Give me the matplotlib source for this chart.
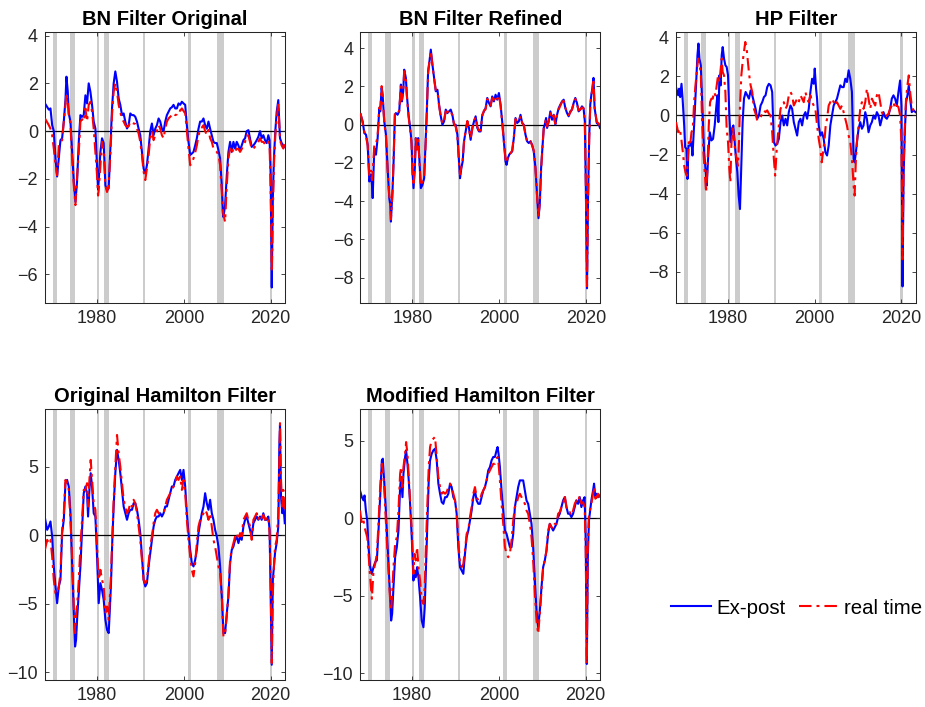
import matplotlib
matplotlib.use('Agg')
import matplotlib.pyplot as plt
from matplotlib.lines import Line2D

plt.rcParams['font.family'] = ['Liberation Sans', 'DejaVu Sans']

# ---------------- NBER recessions (shaded) ----------------
rec_start = [1969.75, 1973.75, 1980.0, 1981.5, 1990.5, 2001.0, 2007.75, 2019.75]
rec_end = [1970.75, 1975.0, 1980.5, 1982.75, 1991.0, 2001.75, 2009.25, 2020.25]

titles = ['BN Filter Original', 'BN Filter Refined', 'HP Filter',
          'Original Hamilton Filter', 'Modified Hamilton Filter']
legend_labels = ['Ex-post', 'real time']
x_ticks = [1980, 2000, 2020]

# ---------------- Panel 1: BN Filter Original ----------------
bn_orig_dates = [
    1968.0, 1968.89, 1969.27, 1969.66, 1970.04, 1970.42, 1970.80, 1971.19, 1971.57, 1971.95,
    1972.34, 1972.72, 1972.95, 1973.26, 1973.49, 1973.87, 1974.25, 1974.64, 1975.02, 1975.40,
    1975.79, 1976.17, 1976.55, 1976.93, 1977.32, 1977.70, 1978.08, 1978.47, 1978.85, 1979.23,
    1979.62, 1980.00, 1980.23, 1980.38, 1980.77, 1981.15, 1981.53, 1981.92, 1982.30, 1982.68,
    1983.07, 1983.45, 1983.83, 1984.21, 1984.60, 1984.98, 1985.36, 1985.75, 1986.13, 1986.51,
    1986.90, 1987.28, 1987.66, 1988.05, 1988.43, 1988.81, 1989.20, 1989.58, 1989.96, 1990.34,
    1990.73, 1991.11, 1991.49, 1991.88, 1992.26, 1992.64, 1993.03, 1993.41, 1993.79, 1994.18,
    1994.56, 1994.94, 1995.33, 1995.71, 1996.09, 1996.48, 1996.86, 1997.24, 1997.62, 1998.01,
    1998.39, 1998.77, 1999.16, 1999.54, 1999.92, 2000.31, 2000.69, 2001.07, 2001.46, 2001.84,
    2002.22, 2002.61, 2002.99, 2003.37, 2003.75, 2004.14, 2004.52, 2004.90, 2005.29, 2005.67,
    2006.05, 2006.44, 2006.82, 2007.20, 2007.59, 2007.97, 2008.35, 2008.74, 2008.97, 2009.12,
    2009.50, 2009.89, 2010.27, 2010.65, 2011.03, 2011.42, 2011.80, 2012.18, 2012.57, 2012.95,
    2013.33, 2013.72, 2014.10, 2014.48, 2014.87, 2015.25, 2015.63, 2016.02, 2016.40, 2016.78,
    2017.16, 2017.55, 2017.93, 2018.31, 2018.70, 2019.08, 2019.46, 2019.75, 2020.0, 2020.25,
    2020.5, 2020.75, 2021.07, 2021.38, 2021.76, 2022.15, 2022.53, 2022.91, 2023.25]
bn_orig_expost = [
    1.16, 0.9, 0.95, 0.25, 0.0, -1.15, -1.9, -1.15, -0.38, -0.3,
    0.4, 1.3, 2.28, 1.65, 0.74, 0.4, -0.87, -2.1, -2.96, -2.1,
    -0.45, 0.67, 0.6, 0.67, 1.5, 1.16, 2.0, 1.65, 1.1, 0.4,
    0.11, -1.43, -2.45, -2.1, -0.87, -0.3, -0.5, -2.27, -2.48, -2.4,
    -0.73, 0.95, 2.0, 2.5, 2.07, 1.37, 1.1, 0.67, 0.74, 0.4,
    0.11, 0.25, 0.74, 0.67, 0.67, 0.6, 0.4, 0.1, -0.17, -0.87,
    -1.57, -1.78, -1.43, -0.73, 0.0, 0.32, -0.17, 0.1, 0.25, 0.53,
    0.4, 0.1, 0.0, 0.4, 0.67, 0.81, 0.95, 1.0, 1.1, 0.95,
    0.95, 1.16, 1.1, 1.23, 1.16, 1.1, 0.25, -0.45, -1.0, -0.94,
    -0.87, -0.6, -0.3, 0.1, 0.4, 0.4, 0.53, 0.25, 0.1, 0.4,
    0.1, -0.17, -0.45, -0.5, -0.5, -0.8, -1.15, -2.27, -3.4, -3.6,
    -3.1, -1.85, -0.87, -0.45, -0.87, -0.45, -0.73, -0.45, -0.6, -0.8,
    -0.6, -0.38, -0.3, 0.0, 0.04, -0.3, -0.66, -0.6, -0.5, -0.38,
    -0.24, 0.0, -0.3, -0.17, -0.38, -0.5, -0.17, -0.38, -1.85, -6.55,
    -2.8, -1.15, 0.0, 0.8, 1.3, -0.3, -0.5, -0.6, -0.66]
bn_orig_realtime = [
    0.53, 0.25, 0.1, -0.17, -0.73, -1.4, -1.85, -0.6, -0.45, -0.38,
    0.4, 1.1, 1.6, 1.2, 0.67, 0.3, -1.15, -2.27, -3.1, -1.9,
    -0.87, 0.4, 0.5, 0.4, 0.95, 0.4, 1.1, 1.23, 0.81, 0.1,
    -0.87, -1.85, -2.7, -2.5, -1.43, -0.45, -0.87, -2.27, -2.55, -2.27,
    -1.0, 0.67, 1.65, 2.0, 1.65, 1.1, 0.81, 0.5, 0.4, 0.25,
    0.18, 0.2, 0.4, 0.35, 0.32, 0.3, 0.1, -0.1, -0.45, -1.0,
    -1.7, -2.05, -1.57, -1.0, -0.3, 0.0, -0.38, -0.17, 0.0, 0.25,
    0.1, -0.17, -0.3, 0.1, 0.4, 0.53, 0.6, 0.67, 0.75, 0.67,
    0.7, 0.88, 0.85, 0.95, 0.85, 0.74, 0.0, -0.73, -1.43, -1.3,
    -1.15, -0.9, -0.6, -0.2, 0.1, 0.15, 0.25, 0.0, -0.17, 0.05,
    -0.3, -0.45, -0.73, -0.8, -0.87, -1.0, -1.43, -2.55, -3.3, -3.5,
    -3.8, -2.27, -1.15, -0.73, -0.95, -0.73, -0.85, -0.73, -0.75, -0.87,
    -0.75, -0.6, -0.45, -0.17, -0.2, -0.45, -0.75, -0.73, -0.65, -0.6,
    -0.45, -0.3, -0.45, -0.45, -0.55, -0.6, -0.45, -0.6, -2.55, -5.9,
    -3.4, -1.43, -0.17, 0.53, 1.16, -0.38, -0.6, -0.73, -0.5]

# ---------------- Panel 2: BN Filter Refined ----------------
bn_ref_dates = [
    1968.0, 1968.51, 1968.89, 1969.28, 1969.66, 1970.04, 1970.42, 1970.65, 1970.81, 1971.19,
    1971.57, 1971.96, 1972.34, 1972.57, 1972.88, 1973.11, 1973.49, 1973.87, 1974.26, 1974.64,
    1974.87, 1975.02, 1975.41, 1975.64, 1975.94, 1976.17, 1976.55, 1976.94, 1977.32, 1977.55,
    1977.86, 1978.09, 1978.47, 1978.70, 1979.08, 1979.47, 1979.77, 1980.00, 1980.23, 1980.54,
    1980.77, 1981.00, 1981.31, 1981.61, 1981.92, 1982.30, 1982.69, 1983.07, 1983.30, 1983.60,
    1983.91, 1984.22, 1984.60, 1984.98, 1985.37, 1985.75, 1986.13, 1986.52, 1986.90, 1987.28,
    1987.67, 1988.05, 1988.43, 1988.82, 1989.20, 1989.58, 1989.96, 1990.35, 1990.73, 1990.96,
    1991.27, 1991.57, 1991.88, 1992.26, 1992.65, 1993.03, 1993.41, 1993.80, 1994.18, 1994.56,
    1994.95, 1995.33, 1995.71, 1996.10, 1996.48, 1996.86, 1997.24, 1997.63, 1998.01, 1998.39,
    1998.78, 1999.16, 1999.54, 1999.93, 2000.31, 2000.69, 2001.08, 2001.46, 2001.69, 2002.00,
    2002.30, 2002.61, 2002.99, 2003.37, 2003.76, 2004.14, 2004.52, 2004.91, 2005.29, 2005.67,
    2006.06, 2006.44, 2006.82, 2007.21, 2007.59, 2007.97, 2008.36, 2008.74, 2009.05, 2009.35,
    2009.66, 2009.96, 2010.27, 2010.50, 2010.81, 2011.04, 2011.42, 2011.80, 2012.19, 2012.57,
    2012.95, 2013.34, 2013.72, 2014.10, 2014.49, 2014.87, 2015.25, 2015.64, 2016.02, 2016.40,
    2016.78, 2017.17, 2017.55, 2017.93, 2018.32, 2018.70, 2019.08, 2019.45, 2019.75, 2020.0,
    2020.25, 2020.5, 2020.75, 2021.0, 2021.25, 2021.5, 2021.75, 2022.0, 2022.5, 2023.0,
    2023.25]
bn_ref_expost = [
    0.56, 0.17, -0.44, -0.52, -1.05, -2.97, -2.6, -3.15, -3.84, -1.22,
    -1.57, -0.7, 0.87, 0.7, 1.92, 1.57, 0.17, -0.52, -2.27, -3.84,
    -4.2, -5.07, -3.32, -1.92, 0.52, 0.61, 0.52, 0.7, 2.1, 1.22,
    1.75, 2.88, 2.45, 1.57, 0.52, -0.17, -0.87, -2.45, -3.32, -2.27,
    -0.7, -1.22, -0.7, -1.92, -3.32, -3.15, -2.8, -0.7, 0.7, 2.8,
    3.32, 3.93, 3.14, 2.45, 1.75, 1.83, 1.05, 0.44, 0.0, 0.17,
    0.79, 0.61, 0.7, 0.79, 0.52, 0.0, 0.0, -0.52, -1.92, -2.8,
    -2.27, -1.92, -0.87, -0.35, 0.17, -0.17, -0.79, -0.17, 0.17, 0.44,
    -0.17, -0.35, -0.35, 0.52, 0.7, 0.87, 1.4, 1.14, 0.96, 1.48,
    1.22, 1.57, 1.31, 1.66, 1.05, 0.17, -0.87, -1.92, -2.1, -1.75,
    -1.57, -1.48, -1.4, -0.7, 0.35, 0.09, 0.17, 0.52, 0.09, 0.0,
    -0.52, -0.87, -0.96, -0.87, -1.05, -1.4, -2.27, -3.67, -4.89, -4.19,
    -2.27, -1.22, -0.17, 0.0, 0.35, -0.17, 0.17, 0.7, 0.26, 0.52,
    0.0, 0.52, 0.87, 1.05, 1.22, 1.31, 0.87, 0.61, 0.44, 0.7,
    0.79, 1.14, 1.4, 1.14, 0.7, 0.79, 0.96, 0.87, 0.17, -3.67,
    -8.56, -3.67, -0.7, 1.05, 1.57, 1.92, 2.45, 0.87, 0.09, 0.0,
    -0.17]
bn_ref_realtime = [
    0.6, 0.1, -0.35, -0.6, -1.1, -2.7, -2.4, -2.9, -2.55, -1.05,
    -1.05, -0.55, 0.9, 0.8, 2.02, 1.5, 0.1, -0.6, -2.4, -3.7,
    -4.0, -4.95, -3.5, -1.8, 0.6, 0.6, 0.55, 0.75, 2.0, 1.3,
    1.7, 2.8, 2.4, 1.5, 0.45, -0.3, -1.0, -2.6, -3.2, -2.1,
    -0.6, -1.3, -0.8, -2.0, -3.2, -3.0, -2.7, -0.8, 0.6, 2.7,
    3.3, 3.85, 3.1, 2.4, 1.8, 1.75, 1.0, 0.4, 0.05, 0.2,
    0.7, 0.65, 0.75, 0.75, 0.45, 0.05, -0.1, -0.6, -2.0, -2.6,
    -2.2, -1.85, -0.9, -0.3, 0.2, -0.25, -0.7, -0.2, 0.2, 0.4,
    -0.1, -0.3, -0.3, 0.45, 0.75, 0.8, 1.35, 1.2, 1.0, 1.4,
    1.3, 1.5, 1.35, 1.55, 1.0, 0.1, -0.9, -1.8, -2.0, -1.7,
    -1.5, -1.5, -1.35, -0.65, 0.3, 0.15, 0.2, 0.45, 0.1, -0.05,
    -0.5, -0.9, -0.9, -0.85, -1.1, -1.35, -2.3, -3.8, -4.8, -4.1,
    -2.4, -1.2, -0.2, 0.05, 0.3, -0.1, 0.2, 0.6, 0.3, 0.5,
    0.05, 0.5, 0.8, 1.0, 1.2, 1.25, 0.9, 0.6, 0.5, 0.65,
    0.8, 1.1, 1.35, 1.1, 0.75, 0.8, 0.9, 0.85, 0.1, -3.5,
    -8.45, -3.8, -0.8, 1.0, 1.5, 1.85, 2.4, 0.9, 0.15, 0.05,
    -0.1]

# ---------------- Panel 3: HP Filter ----------------
hp_expost_dates = [
    1968.0, 1968.51, 1968.74, 1968.97, 1969.27, 1969.50, 1969.89, 1970.11, 1970.42, 1970.65,
    1970.88, 1971.26, 1971.57, 1971.80, 1972.18, 1972.57, 1972.95, 1973.18, 1973.41, 1973.72,
    1974.10, 1974.48, 1974.87, 1975.10, 1975.40, 1975.79, 1976.17, 1976.55, 1976.93, 1977.32,
    1977.55, 1977.78, 1978.01, 1978.31, 1978.54, 1978.77, 1979.08, 1979.39, 1979.69, 1980.00,
    1980.31, 1980.61, 1980.92, 1981.23, 1981.53, 1981.84, 1982.15, 1982.45, 1982.76, 1983.07,
    1983.37, 1983.68, 1984.06, 1984.44, 1984.83, 1985.21, 1985.59, 1985.98, 1986.36, 1986.74,
    1987.13, 1987.51, 1987.89, 1988.28, 1988.66, 1989.04, 1989.43, 1989.81, 1990.19, 1990.57,
    1990.96, 1991.34, 1991.72, 1992.11, 1992.49, 1992.87, 1993.26, 1993.64, 1994.02, 1994.41,
    1994.79, 1995.17, 1995.56, 1995.94, 1996.32, 1996.70, 1997.09, 1997.47, 1997.85, 1998.24,
    1998.62, 1999.00, 1999.39, 1999.77, 2000.00, 2000.31, 2000.54, 2000.92, 2001.30, 2001.69,
    2002.07, 2002.45, 2002.84, 2003.22, 2003.60, 2003.98, 2004.37, 2004.75, 2005.13, 2005.52,
    2005.90, 2006.28, 2006.67, 2007.05, 2007.43, 2007.82, 2008.20, 2008.58, 2008.97, 2009.20,
    2009.50, 2009.73, 2010.11, 2010.50, 2010.88, 2011.26, 2011.65, 2012.03, 2012.41, 2012.80,
    2013.18, 2013.56, 2013.95, 2014.33, 2014.71, 2015.10, 2015.48, 2015.86, 2016.25, 2016.63,
    2017.01, 2017.39, 2017.78, 2018.16, 2018.54, 2018.93, 2019.31, 2019.69,
    2020.0, 2020.25, 2020.5, 2020.75,
    2021.07, 2021.38, 2021.69, 2022.00, 2022.38, 2022.77, 2023.25]
hp_expost = [
    1.45, 1.03, 1.37, 0.94, 1.62, 0.94, -0.51, -1.62, -1.71, -3.25,
    -1.54, -1.54, -1.37, -2.05, -0.51, 1.37, 3.08, 3.68, 2.91, 2.57,
    0.34, -1.88, -2.91, -3.59, -2.22, -0.86, -1.28, -1.2, -0.51, 0.51,
    1.03, -0.34, 2.05, 1.54, 3.08, 3.5, 2.91, 2.57, 2.48, 2.05,
    0.0, -1.37, -0.68, -0.51, -1.37, -2.22, -2.91, -4.1, -4.79, -2.57,
    -0.34, 0.86, 1.2, 1.03, 0.86, 1.28, 1.03, 0.68, 0.34, -0.17,
    0.0, 0.51, 0.68, 0.94, 1.03, 1.45, 1.62, 1.54, 1.2, -1.37,
    -1.54, -1.45, -1.2, -0.34, 0.0, -0.51, -0.17, -0.51, 0.17, 0.51,
    0.34, -0.34, -0.68, -1.03, -0.34, -0.17, -0.51, 0.0, 0.17, -0.17,
    0.34, 1.2, 1.88, 1.62, 2.4, 1.37, 0.86, -0.51, -1.03, -0.86,
    -1.2, -1.88, -2.05, -1.54, -0.51, 0.0, 0.51, 0.68, 0.86, 1.2,
    1.54, 1.45, 1.45, 1.88, 1.71, 2.31, 1.88, 1.2, -2.22, -2.4,
    -1.88, -1.37, -0.68, -0.34, -0.68, -0.51, 0.17, -0.17, -0.86, -0.51,
    -0.34, 0.0, -0.17, 0.17, 0.0, -0.51, -0.17, 0.17, -0.09, -0.17,
    0.0, 0.34, 0.86, 1.03, 0.86, 0.51, 1.2, 1.79,
    0.51, -8.75, -3.08, -1.03,
    0.68, 1.03, 1.54, 0.86, 0.17, 0.26, 0.17]
hp_realtime_dates = [
    1968.0, 1968.51, 1968.89, 1969.27, 1969.58, 1969.89, 1970.19, 1970.50, 1970.73, 1970.96,
    1971.26, 1971.57, 1971.88, 1972.18, 1972.49, 1972.80, 1973.10, 1973.41, 1973.72, 1974.02,
    1974.33, 1974.64, 1974.94, 1975.25, 1975.56, 1975.86, 1976.17, 1976.48, 1976.78, 1977.09,
    1977.39, 1977.70, 1978.01, 1978.31, 1978.54, 1978.77, 1979.08, 1979.39, 1979.69, 1980.00,
    1980.31, 1980.54, 1980.77, 1981.07, 1981.38, 1981.69, 1981.99, 1982.30, 1982.53, 1982.76,
    1983.07, 1983.37, 1983.68, 1983.98, 1984.29, 1984.60, 1984.90, 1985.21, 1985.59, 1985.98,
    1986.36, 1986.74, 1987.13, 1987.51, 1987.89, 1988.28, 1988.66, 1989.04, 1989.43, 1989.81,
    1990.19, 1990.57, 1990.88, 1991.19, 1991.49, 1991.80, 1992.11, 1992.49, 1992.87, 1993.26,
    1993.64, 1994.02, 1994.41, 1994.79, 1995.17, 1995.56, 1995.94, 1996.32, 1996.70, 1997.09,
    1997.47, 1997.85, 1998.24, 1998.62, 1999.00, 1999.39, 1999.77, 2000.15, 2000.54, 2000.92,
    2001.30, 2001.61, 2001.92, 2002.22, 2002.53, 2002.84, 2003.22, 2003.60, 2003.98, 2004.37,
    2004.75, 2005.13, 2005.52, 2005.90, 2006.28, 2006.67, 2007.05, 2007.43, 2007.82, 2008.20,
    2008.58, 2008.97, 2009.20, 2009.50, 2009.73, 2010.11, 2010.50, 2010.88, 2011.26, 2011.65,
    2012.03, 2012.41, 2012.80, 2013.18, 2013.56, 2013.95, 2014.33, 2014.71, 2015.10, 2015.48,
    2015.86, 2016.25, 2016.63, 2017.01, 2017.39, 2017.78, 2018.16, 2018.54, 2018.93, 2019.31,
    2019.69, 2020.0, 2020.25, 2020.5, 2020.75, 2021.07, 2021.38, 2021.69, 2022.00, 2022.38,
    2022.77, 2023.25]
hp_realtime = [
    -0.34, -0.86, -0.68, -1.28, -1.88, -2.57, -2.91, -3.08, -2.22, -1.37,
    -1.54, -0.86, -0.68, 0.68, 1.54, 2.22, 2.91, 2.57, 2.22, -0.34,
    -1.88, -2.91, -3.94, -2.74, -0.51, 0.68, 0.86, 0.86, 1.2, 1.03,
    1.54, 2.05, 1.71, 2.4, 2.91, 2.22, 2.05, 1.2, -0.68, -1.37,
    -2.74, -3.42, -1.54, -0.51, -1.2, -1.88, -2.22, -2.57, -1.37, 0.51,
    2.05, 2.74, 3.25, 3.76, 3.42, 2.74, 2.05, 1.54, 1.2, 0.34,
    0.09, -0.26, -0.17, -0.09, 0.09, 0.26, 0.17, 0.26, 0.09, 0.0,
    -0.86, -2.22, -3.08, -1.88, -1.03, -0.34, 0.34, 0.51, 0.68, 0.34,
    0.51, 1.03, 1.2, 1.03, 0.51, 0.68, 0.86, 0.68, 1.03, 0.86,
    0.68, 1.2, 0.86, 0.68, 1.03, 0.68, 0.51, 0.34, -0.51, -1.2,
    -1.71, -2.4, -1.88, -1.37, -0.51, -0.17, 0.51, 0.68, 0.86, 0.68,
    0.51, 0.68, 0.51, 0.34, 0.51, 0.17, -0.17, -0.51, -1.03, -1.37,
    -2.22, -3.59, -4.1, -2.22, -1.37, -0.51, 0.34, 0.68, 0.34, 0.68,
    1.37, 0.86, 0.34, 0.86, 0.68, 0.51, 1.03, 1.2, 0.68, 0.17,
    0.0, -0.09, 0.0, 0.09, 0.34, 0.51, 0.68, 0.34, 0.51, 0.43,
    0.0, -1.37, -7.36, -2.57, -0.68, 0.86, 1.54, 2.05, 1.2, 0.51,
    0.26, 0.26]

# ---------------- Panel 4: Original Hamilton Filter ----------------
ham_orig_dates = [
    1968.0, 1968.51, 1968.89, 1969.27, 1969.66, 1970.04, 1970.42, 1970.80, 1971.19, 1971.57,
    1971.95, 1972.34, 1972.72, 1973.10, 1973.49, 1973.87, 1974.25, 1974.64, 1974.94, 1975.17,
    1975.40, 1975.79, 1976.17, 1976.55, 1976.93, 1977.32, 1977.70, 1977.93, 1978.24, 1978.54,
    1978.85, 1979.23, 1979.62, 1980.00, 1980.38, 1980.77, 1981.15, 1981.53, 1981.92, 1982.30,
    1982.68, 1982.91, 1983.22, 1983.52, 1983.83, 1984.21, 1984.60, 1984.98, 1985.36, 1985.75,
    1986.13, 1986.51, 1986.90, 1987.28, 1987.66, 1988.05, 1988.43, 1988.81, 1989.20, 1989.58,
    1989.96, 1990.34, 1990.73, 1991.11, 1991.49, 1991.88, 1992.26, 1992.64, 1993.03, 1993.41,
    1993.79, 1994.18, 1994.56, 1994.94, 1995.33, 1995.71, 1996.09, 1996.48, 1996.86, 1997.24,
    1997.62, 1998.01, 1998.39, 1998.77, 1999.16, 1999.54, 1999.92, 2000.31, 2000.69, 2001.07,
    2001.46, 2001.84, 2002.22, 2002.61, 2002.99, 2003.37, 2003.75, 2004.14, 2004.52, 2004.90,
    2005.29, 2005.67, 2006.05, 2006.44, 2006.82, 2007.20, 2007.59, 2007.97, 2008.35, 2008.74,
    2009.12, 2009.50, 2009.89, 2010.27, 2010.65, 2011.03, 2011.42, 2011.80, 2012.18, 2012.57,
    2012.95, 2013.33, 2013.72, 2014.10, 2014.48, 2014.87, 2015.25, 2015.63, 2016.02, 2016.40,
    2016.78, 2017.16, 2017.55, 2017.93, 2018.31, 2018.70, 2019.08, 2019.46, 2019.75, 2020.0,
    2020.25, 2020.5, 2020.75, 2021.0, 2021.38, 2021.76, 2021.99, 2022.15, 2022.38, 2022.68,
    2022.91, 2023.25]
ham_orig_expost = [
    1.24, 0.39, 0.63, 1.0, -0.1, -2.28, -3.74, -4.96, -3.74, -3.26,
    0.15, 1.12, 3.79, 4.03, 3.55, 1.6, -2.04, -5.69, -8.12, -7.63,
    -6.17, -4.23, -2.28, 0.39, 3.06, 3.55, 3.06, 1.36, 3.3, 4.52,
    3.55, 1.6, 1.36, -1.56, -4.96, -3.5, -3.99, -4.71, -6.17, -6.9,
    -7.14, -5.69, -3.5, -0.34, 2.09, 4.52, 6.22, 5.49, 4.52, 3.3,
    2.09, 1.6, 1.12, 1.6, 1.85, 1.85, 2.33, 2.33, 1.85, 1.12,
    0.15, -1.56, -3.26, -3.74, -3.5, -2.28, -1.31, -0.34, 0.63, 1.12,
    1.36, 1.36, 1.6, 1.36, 1.6, 2.09, 2.09, 2.58, 3.06, 3.55,
    3.55, 4.03, 4.28, 4.52, 4.76, 4.03, 4.76, 3.55, 1.6, 0.15,
    -1.07, -2.04, -2.28, -1.8, -1.07, 0.15, 0.87, 1.6, 2.09, 3.06,
    2.33, 1.85, 2.58, 1.6, 1.12, 0.39, -0.1, -0.83, -2.28, -4.47,
    -7.14, -7.14, -5.69, -4.47, -2.04, -1.07, -0.83, -0.34, -0.1, -0.58,
    -0.1, -0.34, 0.63, 1.12, 1.36, 0.87, 0.39, -0.1, 0.87, 1.12,
    1.36, 1.12, 1.36, 1.12, 1.6, 1.12, 1.12, 1.36, 0.39, -4.47,
    -9.45, -3.26, -2.28, -1.31, -0.58, 0.63, 6.46, 8.04, 2.82, 1.6,
    2.33, 0.87]
ham_orig_realtime = [
    -1.07, -0.34, -0.58, -0.34, -1.56, -3.26, -4.23, -4.23, -3.74, -2.77,
    0.39, 1.6, 4.03, 3.79, 3.3, 1.12, -1.56, -5.2, -7.14, -5.69,
    -5.2, -3.26, -0.83, 1.12, 3.3, 3.3, 3.79, 2.09, 4.03, 5.49,
    4.03, 2.33, 1.85, -0.83, -3.26, -2.53, -3.26, -3.74, -5.69, -5.2,
    -6.17, -4.71, -2.77, -0.1, 2.58, 5.0, 7.31, 5.98, 5.0, 3.79,
    2.58, 2.09, 1.6, 1.85, 2.33, 2.09, 2.58, 2.33, 1.6, 0.63,
    -0.34, -1.8, -3.26, -3.5, -3.26, -2.04, -0.83, -0.1, 0.87, 1.6,
    1.85, 1.6, 1.6, 1.6, 1.6, 2.09, 2.58, 2.82, 3.06, 3.3,
    3.55, 3.79, 4.28, 4.03, 4.28, 3.3, 4.03, 3.06, 1.12, -0.34,
    -1.56, -2.53, -3.01, -2.04, -0.58, 0.63, 1.12, 1.36, 1.6, 1.85,
    1.6, 1.12, 1.6, 0.63, -0.34, -0.83, -1.56, -2.28, -2.77, -4.47,
    -7.39, -7.14, -5.93, -4.23, -1.8, -1.07, -0.58, -0.1, 0.15, -0.34,
    0.15, -0.1, 1.12, 1.36, 1.6, 1.12, 0.63, -0.34, 1.12, 1.36,
    1.6, 1.12, 1.48, 1.24, 1.48, 1.12, 1.24, 1.36, 0.15, -3.26,
    -9.33, -4.23, -2.28, -0.83, -0.34, 1.6, 5.25, 8.17, 4.03, 2.09,
    3.3, 1.6]

# ---------------- Panel 5: Modified Hamilton Filter ----------------
ham_mod_dates = [
    1968.0, 1968.43, 1968.81, 1969.04, 1969.35, 1969.66, 1969.96, 1970.34, 1970.73, 1971.11,
    1971.49, 1971.88, 1972.26, 1972.64, 1973.03, 1973.26, 1973.56, 1973.87, 1974.18, 1974.56,
    1974.94, 1975.17, 1975.40, 1975.71, 1976.09, 1976.48, 1976.86, 1977.24, 1977.47, 1977.78,
    1978.01, 1978.39, 1978.62, 1978.93, 1979.23, 1979.54, 1979.92, 1980.31, 1980.54, 1980.84,
    1981.15, 1981.46, 1981.84, 1982.22, 1982.61, 1982.91, 1983.22, 1983.52, 1983.83, 1984.14,
    1984.52, 1984.90, 1985.29, 1985.67, 1986.05, 1986.44, 1986.82, 1987.20, 1987.59, 1987.97,
    1988.35, 1988.74, 1989.12, 1989.50, 1989.89, 1990.27, 1990.65, 1991.03, 1991.42, 1991.80,
    1992.18, 1992.57, 1992.95, 1993.33, 1993.72, 1994.10, 1994.48, 1994.87, 1995.25, 1995.63,
    1996.02, 1996.40, 1996.78, 1997.16, 1997.55, 1997.93, 1998.31, 1998.70, 1999.08, 1999.46,
    1999.69, 1999.92, 2000.23, 2000.61, 2001.00, 2001.38, 2001.76, 2002.15, 2002.53, 2002.91,
    2003.30, 2003.68, 2004.06, 2004.44, 2004.83, 2005.21, 2005.59, 2005.98, 2006.36, 2006.74,
    2007.13, 2007.51, 2007.89, 2008.28, 2008.66, 2009.04, 2009.43, 2009.81, 2010.19, 2010.57,
    2010.96, 2011.34, 2011.72, 2012.11, 2012.49, 2012.87, 2013.26, 2013.64, 2014.02, 2014.41,
    2014.79, 2015.17, 2015.56, 2015.94, 2016.32, 2016.70, 2017.09, 2017.47, 2017.85, 2018.24,
    2018.62, 2019.00, 2019.39, 2019.75, 2020.0, 2020.25, 2020.5, 2020.75, 2021.30, 2021.69,
    2021.92, 2022.22, 2022.53, 2022.84, 2023.25]
ham_mod_expost = [
    1.78, 1.35, 1.14, 1.46, 0.49, -0.15, -1.87, -3.16, -3.59, -3.16,
    -2.84, -2.73, -0.8, 1.35, 3.72, 3.83, 2.43, 0.92, -0.8, -2.95,
    -5.1, -6.6, -6.17, -4.45, -2.52, -1.87, -0.8, 2.0, 2.65, 1.35,
    2.86, 3.94, 4.37, 3.5, 2.43, 0.92, -1.23, -4.02, -3.38, -3.81,
    -3.16, -3.81, -5.1, -6.6, -7.03, -5.74, -2.95, -0.15, 2.43, 3.72,
    4.15, 4.37, 4.47, 3.72, 2.22, 1.57, 1.03, 0.92, 1.35, 1.35,
    1.57, 2.22, 2.0, 1.35, 1.14, 0.28, -1.87, -3.16, -3.38, -3.59,
    -2.3, -1.23, -0.8, -0.15, 0.49, 1.35, 1.78, 1.14, 0.92, 0.92,
    1.35, 1.78, 2.0, 2.43, 3.08, 3.29, 3.72, 3.94, 3.94, 4.37,
    4.58, 4.15, 3.29, 1.78, 0.49, -0.8, -1.01, -1.44, -1.87, -1.87,
    -1.01, 0.71, 1.35, 2.0, 2.43, 2.43, 2.43, 1.78, 1.14, 0.92,
    0.28, -0.37, -1.87, -4.02, -5.96, -7.03, -5.96, -4.45, -3.16, -2.73,
    -2.09, -1.01, -0.37, -0.58, -0.8, -0.58, -0.37, 0.06, 0.28, 0.71,
    1.14, 1.35, 0.71, 0.28, 0.28, 0.06, 0.28, 0.71, 1.14, 0.92,
    1.35, 0.71, 1.14, 1.35, -1.5, -9.4, -2.3, -0.15, 1.14, 1.78,
    2.22, 1.35, 1.57, 1.35, 1.46]
ham_mod_realtime = [
    0.49, -0.37, -0.15, -0.58, -0.9, -1.23, -2.3, -3.81, -5.2, -3.38,
    -2.95, -2.3, -0.37, 2.0, 3.5, 3.08, 2.0, 0.28, -1.44, -3.38,
    -5.31, -5.96, -4.88, -3.16, -1.66, -1.23, 0.49, 2.86, 3.29, 2.0,
    3.29, 4.15, 4.9, 4.15, 2.65, 1.14, -0.8, -3.59, -2.3, -2.73,
    -1.87, -3.16, -4.02, -5.31, -5.53, -4.45, -1.44, 0.92, 3.29, 4.58,
    5.01, 5.12, 5.23, 3.94, 2.65, 2.0, 1.57, 1.68, 1.57, 1.68,
    2.0, 2.22, 2.0, 1.57, 1.14, 0.28, -1.44, -2.95, -3.16, -2.95,
    -2.09, -1.01, -0.8, 0.06, 0.71, 1.57, 2.0, 1.35, 1.14, 1.14,
    1.57, 1.78, 2.0, 2.43, 2.86, 3.08, 3.29, 3.5, 3.5, 3.72,
    3.94, 3.5, 2.43, 0.92, -0.37, -1.87, -2.3, -2.52, -2.3, -1.44,
    -0.15, 0.71, 0.92, 1.35, 1.57, 1.35, 1.14, 0.92, 0.49, 0.28,
    -0.37, -1.23, -2.73, -4.88, -6.6, -7.46, -6.17, -4.67, -3.16, -2.73,
    -2.09, -0.8, -0.37, -0.58, -0.69, -0.37, -0.37, 0.28, 0.39, 0.71,
    0.92, 1.46, 0.71, 0.39, 0.39, 0.17, 0.49, 0.92, 1.14, 1.03,
    1.46, 0.92, 1.03, 0.71, -2.0, -9.4, -1.44, 0.28, 0.92, 1.57,
    2.0, 1.25, 1.35, 1.57, 1.25]

# ---------------- Axes limits / ticks ----------------
y_limits = [(-7.2, 4.15), (-9.33, 4.85), (-9.6, 4.27), (-10.56, 9.2), (-10.43, 7.03)]
y_ticks = [[-6, -4, -2, 0, 2, 4], [-8, -6, -4, -2, 0, 2, 4], [-8, -6, -4, -2, 0, 2, 4],
           [-10, -5, 0, 5], [-10, -5, 0, 5]]
x_limits = (1968.0, 2023.3)

panels = [
    (bn_orig_dates, bn_orig_expost, bn_orig_dates, bn_orig_realtime),
    (bn_ref_dates, bn_ref_expost, bn_ref_dates, bn_ref_realtime),
    (hp_expost_dates, hp_expost, hp_realtime_dates, hp_realtime),
    (ham_orig_dates, ham_orig_expost, ham_orig_dates, ham_orig_realtime),
    (ham_mod_dates, ham_mod_expost, ham_mod_dates, ham_mod_realtime),
]
for p in panels:
    assert len(p[0]) == len(p[1]), (len(p[0]), len(p[1]))
    assert len(p[2]) == len(p[3]), (len(p[2]), len(p[3]))

# ---------------- Figure ----------------
fig = plt.figure(figsize=(9.25, 7.07), dpi=100)
fig.patch.set_facecolor('white')

positions = [
    [0.0486, 0.5714, 0.2595, 0.3833],
    [0.3897, 0.5714, 0.2592, 0.3833],
    [0.7308, 0.5714, 0.2592, 0.3833],
    [0.0486, 0.0382, 0.2595, 0.3833],
    [0.3892, 0.0382, 0.2595, 0.3833],
]

edge = '#262626'
red_dash = (0, (6, 2.4, 1.4, 2.4))

for i, (pos, p) in enumerate(zip(positions, panels)):
    ax = fig.add_axes(pos)
    for s, e in zip(rec_start, rec_end):
        ax.axvspan(s, e, color='#cccccc', lw=0, zorder=0)
    ax.axhline(0, color='black', lw=0.9, zorder=1)
    ax.plot(p[0], p[1], color='#0000ff', lw=1.5, zorder=2)
    ax.plot(p[2], p[3], color='#ff0000', lw=1.5, linestyle=red_dash, zorder=3)
    ax.set_xlim(*x_limits)
    ax.set_ylim(*y_limits[i])
    ax.set_xticks(x_ticks)
    ax.set_yticks(y_ticks[i])
    ax.tick_params(direction='in', top=True, right=True, length=3, width=0.6,
                   color=edge, labelcolor=edge, labelsize=13, pad=5)
    for sp in ax.spines.values():
        sp.set_color(edge)
        sp.set_linewidth(0.75)
    ax.set_title(titles[i], fontsize=14.5, fontweight='bold', pad=5)

handles = [Line2D([], [], color='#0000ff', lw=1.5),
           Line2D([], [], color='#ff0000', lw=1.5, linestyle=red_dash)]
fig.legend(handles, legend_labels, loc='center', bbox_to_anchor=(0.861, 0.14), ncol=2,
           frameon=False, fontsize=14.7, handlelength=1.96, handletextpad=0.25,
           columnspacing=0.64)

fig.savefig('out.png', dpi=100, facecolor='white')
